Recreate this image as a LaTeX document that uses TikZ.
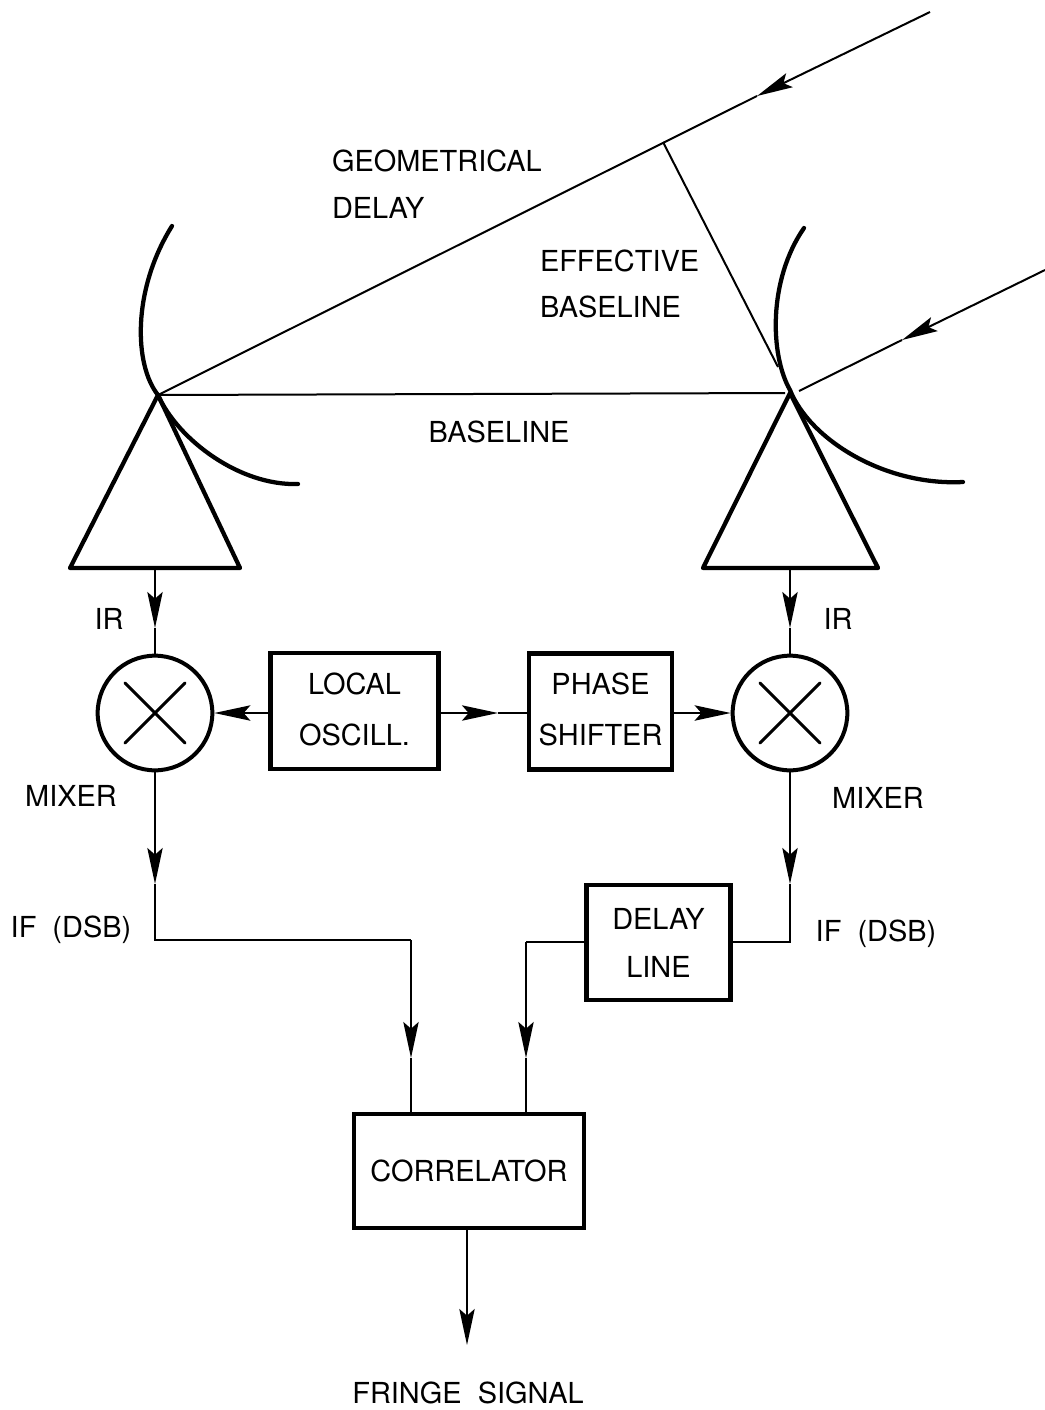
\documentclass[tikz,border=0pt]{standalone}
\usepackage{fontspec}
\setmainfont{TeX Gyre Heros}
\usetikzlibrary{arrows.meta}
\begin{document}
\begin{tikzpicture}[x=0.75pt,y=-0.75pt,line width=1.5pt,font=\fontsize{21.7}{35}\selectfont,
  >={Stealth[length=27pt,width=11.5pt,inset=5pt]}]
\useasboundingbox (0,0) rectangle (1045,1410);
\tikzstyle{blockbox} = [rectangle, draw=black, line width=3.2pt, align=center, inner sep=0pt]
\tikzstyle{mixerbox} = [circle, draw=black, line width=3pt, minimum size=86pt, inner sep=0pt]
\tikzstyle{tag} = [align=left, inner sep=0pt]
\tikzstyle{heavy} = [line width=3.2pt, line cap=round, line join=round]
\tikzstyle{crossbar} = [line width=2.2pt, line cap=round]
% blocks
\node (mixL)[mixerbox] at (155,713) {};
\node (mixR)[mixerbox] at (790,713) {};
\node (osc)[blockbox, minimum width=126pt, minimum height=87pt] at (354.5,711) {LOCAL\\[3pt]OSCILL.\rule[-3pt]{0pt}{3pt}};
\node (shift)[blockbox, minimum width=107pt, minimum height=87pt] at (600.5,711.5) {PHASE\\[3pt]SHIFTER\rule[-3pt]{0pt}{3pt}};
\node (delay)[blockbox, minimum width=108pt, minimum height=86pt] at (658.5,942.5) {DELAY\\[1pt]LINE};
\node (corr)[blockbox, minimum width=172pt, minimum height=86pt] at (469,1171) {CORRELATOR};
\draw [crossbar] ([shift={(-30,-30)}]mixL.center) -- ([shift={(30,30)}]mixL.center);
\draw [crossbar] ([shift={(-30,30)}]mixL.center) -- ([shift={(30,-30)}]mixL.center);
\draw [crossbar] ([shift={(-30,-30)}]mixR.center) -- ([shift={(30,30)}]mixR.center);
\draw [crossbar] ([shift={(-30,30)}]mixR.center) -- ([shift={(30,-30)}]mixR.center);
% antennas
\coordinate (topL) at (158,395);
\coordinate (topR) at (790,393);
\coordinate (footL) at (155,568);
\coordinate (footR) at (790,568);
\draw [heavy] (topL) -- (70,568) -- (240,568) -- cycle;
\draw [heavy] (topR) -- (703,568) -- (878,568) -- cycle;
\draw [heavy] (172,226) .. controls (132,290) and (134,365) .. (158,395) .. controls (178,440) and (240,486) .. (298,484);
\draw [heavy] (804,228) .. controls (768,280) and (770,355) .. (790,390) .. controls (810,440) and (885,486) .. (963,482);
% rays
\coordinate (farA) at (930,12);
\coordinate (tipA) at (757,96);
\coordinate (footA) at (663,142);
\coordinate (farB) at (1045,270);
\coordinate (tipB) at (902,340);
\coordinate (endB) at (799,391);
\coordinate (footB) at (778,367);
\coordinate (endBase) at (785,393);
\draw [->] (farA) -- (tipA);
\draw (tipA) -- (topL);
\draw [->] (farB) -- (tipB);
\draw (tipB) -- (endB);
\draw (footA) -- (footB);
\draw (topL) -- (endBase);
% signal path
\coordinate (tipL) at (155,628);
\coordinate (tipR) at (790,628);
\draw [->] (footL) -- (tipL);
\draw (tipL) -- (mixL);
\draw [->] (footR) -- (tipR);
\draw (tipR) -- (mixR);
\coordinate (tipS) at (498,713);
\draw [->] (osc.west |- mixL) -- (mixL.east);
\draw [->] (osc.east |- tipS) -- (tipS);
\draw (tipS) -- (shift.west |- tipS);
\draw [->] (shift.east |- mixR) -- (mixR.west);
\coordinate (tipIFL) at (155,884);
\coordinate (tipIFR) at (790,884);
\coordinate (turnL) at (411,940);
\coordinate (turnC) at (526,942);
\coordinate (turnR) at (790,942);
\coordinate (tipCL) at (411,1058);
\coordinate (tipCR) at (526,1058);
\draw [->] (mixL) -- (tipIFL);
\draw (tipIFL) |- (turnL);
\draw [->] (turnL) -- (tipCL);
\draw (tipCL) -- (tipCL |- corr.north);
\draw [->] (mixR) -- (tipIFR);
\draw (tipIFR) -- (turnR) -- (delay.east |- turnR);
\draw (delay.west |- turnC) -- (turnC);
\draw [->] (turnC) -- (tipCR);
\draw (tipCR) -- (tipCR |- corr.north);
\coordinate (tipOut) at (467,1345);
\draw [->] (corr.south -| tipOut) -- (tipOut);
% labels
\node (lGeo)[tag, anchor=west] at (331,184) {GEOMETRICAL\\DELAY};
\node (lEff)[tag, anchor=west] at (539,284) {EFFECTIVE\\BASELINE};
\node (lBase)[tag] at (499,432) {BASELINE};
\node (lIrL)[tag] at (109,619) {IR};
\node (lIrR)[tag] at (838,619) {IR};
\node (lMixL)[tag] at (71,796) {MIXER};
\node (lMixR)[tag] at (878,798) {MIXER};
\node (lIfL)[tag] at (71,930) {IF\ \ (DSB)};
\node (lIfR)[tag] at (876,934) {IF\ \ (DSB)};
\node (lOut)[tag] at (468,1393) {FRINGE\ \ SIGNAL};
\end{tikzpicture}
\end{document}
